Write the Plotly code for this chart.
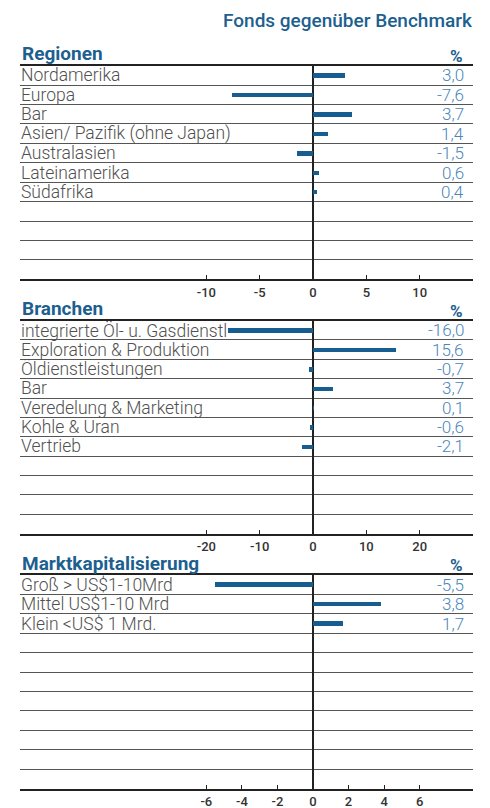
import plotly.graph_objects as go

# page body has an 8px default margin; lay the figure out in page pixels
PAGE_W, PAGE_H, OFF = 490, 808, 8
W, H = PAGE_W - OFF, PAGE_H - OFF

title_text = "Fonds gegenüber Benchmark"

reg_title = "Regionen"
reg_cats = ["Nordamerika", "Europa", "Bar", "Asien/ Pazifik (ohne Japan)",
            "Australasien", "Lateinamerika", "Südafrika"]
reg_vals = [3.0, -7.6, 3.7, 1.4, -1.5, 0.6, 0.4]
reg_ticks = [-10, -5, 0, 5, 10]

br_title = "Branchen"
br_cats = ["integrierte Öl- u. Gasdienstl", "Exploration & Produktion",
           "Öldienstleistungen", "Bar", "Veredelung & Marketing",
           "Kohle & Uran", "Vertrieb"]
br_vals = [-16.0, 15.6, -0.7, 3.7, 0.1, -0.6, -2.1]
br_ticks = [-20, -10, 0, 10, 20]

mk_title = "Marktkapitalisierung"
mk_cats = ["Groß > US$1-10Mrd", "Mittel US$1-10 Mrd", "Klein <US$ 1 Mrd."]
mk_vals = [-5.5, 3.8, 1.7]
mk_ticks = [-6, -4, -2, 0, 2, 4, 6]

N_ROWS = 11
BAR_COLOR = "#175d8f"
VAL_COLOR = "#4a86ba"
CAT_COLOR = "#505050"
HEAD_COLOR = "#1d5f8f"
LINE_COLOR = "#222222"
GRID_COLOR = "#555555"
FONT = "Roboto"

X_LEFT, X_RIGHT, X_ZERO = 20, 473, 313
TICK_SPAN_PX = 419.3 - 206.0

panels = [
    (reg_title, reg_cats, reg_vals, reg_ticks, 65.7, 279.3),
    (br_title, br_cats, br_vals, br_ticks, 320.5, 533.7),
    (mk_title, mk_cats, mk_vals, mk_ticks, 575.0, 788.7),
]

fig = go.Figure()
annotations = []


def py(p):
    return 1 - (p - OFF) / H


def px(p):
    return (p - OFF) / W


for i, (ttl, cats, vals, ticks, top, bot) in enumerate(panels):
    k = "" if i == 0 else str(i + 1)
    scale = TICK_SPAN_PX / (ticks[-1] - ticks[0])
    rng = [-(X_ZERO - X_LEFT) / scale, (X_RIGHT - X_ZERO) / scale]
    ypos = list(range(len(cats)))
    fig.add_trace(go.Bar(
        x=vals, y=ypos, orientation="h", width=0.23,
        marker=dict(color=BAR_COLOR, line=dict(width=0)),
        xaxis="x" + k, yaxis="y" + k, showlegend=False, hoverinfo="skip",
    ))
    fig.update_layout(**{
        "xaxis" + k: dict(
            domain=[px(X_LEFT), px(X_RIGHT)], range=rng, anchor="y" + k,
            tickvals=ticks, ticktext=[str(t) for t in ticks],
            ticks="inside", ticklen=4, tickcolor=LINE_COLOR, tickwidth=1,
            showline=True, linecolor=LINE_COLOR, linewidth=2, mirror=True,
            zeroline=True, zerolinecolor=LINE_COLOR, zerolinewidth=2,
            showgrid=False, fixedrange=True,
            tickfont=dict(family=FONT, size=13, color="#333333", weight=500),
        ),
        "yaxis" + k: dict(
            domain=[py(bot), py(top)], range=[N_ROWS - 0.5, -0.5],
            anchor="x" + k, tickvals=[r + 0.5 for r in range(N_ROWS - 1)],
            showticklabels=False, ticks="", showgrid=True,
            gridcolor=GRID_COLOR, gridwidth=1, zeroline=False,
            showline=False, fixedrange=True,
        ),
    })
    # section header
    annotations.append(dict(
        text=ttl, x=px(X_LEFT), y=py(top - 12), xref="paper", yref="paper",
        xanchor="left", yanchor="middle", showarrow=False,
        font=dict(family=FONT, size=19, color=HEAD_COLOR, weight=700),
    ))
    annotations.append(dict(
        text="%", x=px(465), y=py(top - 10), xref="paper", yref="paper",
        xanchor="right", yanchor="middle", showarrow=False,
        font=dict(family=FONT, size=17, color=HEAD_COLOR, weight=700),
    ))
    for j, (c, v) in enumerate(zip(cats, vals)):
        annotations.append(dict(
            text=c, x=px(X_LEFT - 1), y=j, xref="paper", yref="y" + k,
            xanchor="left", yanchor="middle", showarrow=False,
            font=dict(family=FONT, size=17.5, color=CAT_COLOR, weight=300),
        ))
        annotations.append(dict(
            text=f"{v:.1f}".replace(".", ","), x=px(466), y=j,
            xref="paper", yref="y" + k, xanchor="right", yanchor="middle",
            showarrow=False,
            font=dict(family=FONT, size=17, color=VAL_COLOR, weight=300),
        ))

annotations.append(dict(
    text=title_text, x=px(475), y=py(20), xref="paper", yref="paper",
    xanchor="right", yanchor="middle", showarrow=False,
    font=dict(family=FONT, size=19, color=HEAD_COLOR, weight=500),
))

fig.update_layout(
    width=W, height=H, margin=dict(l=0, r=0, t=0, b=0),
    paper_bgcolor="white", plot_bgcolor="white",
    annotations=annotations, bargap=0,
)

fig.write_html("out.html")
